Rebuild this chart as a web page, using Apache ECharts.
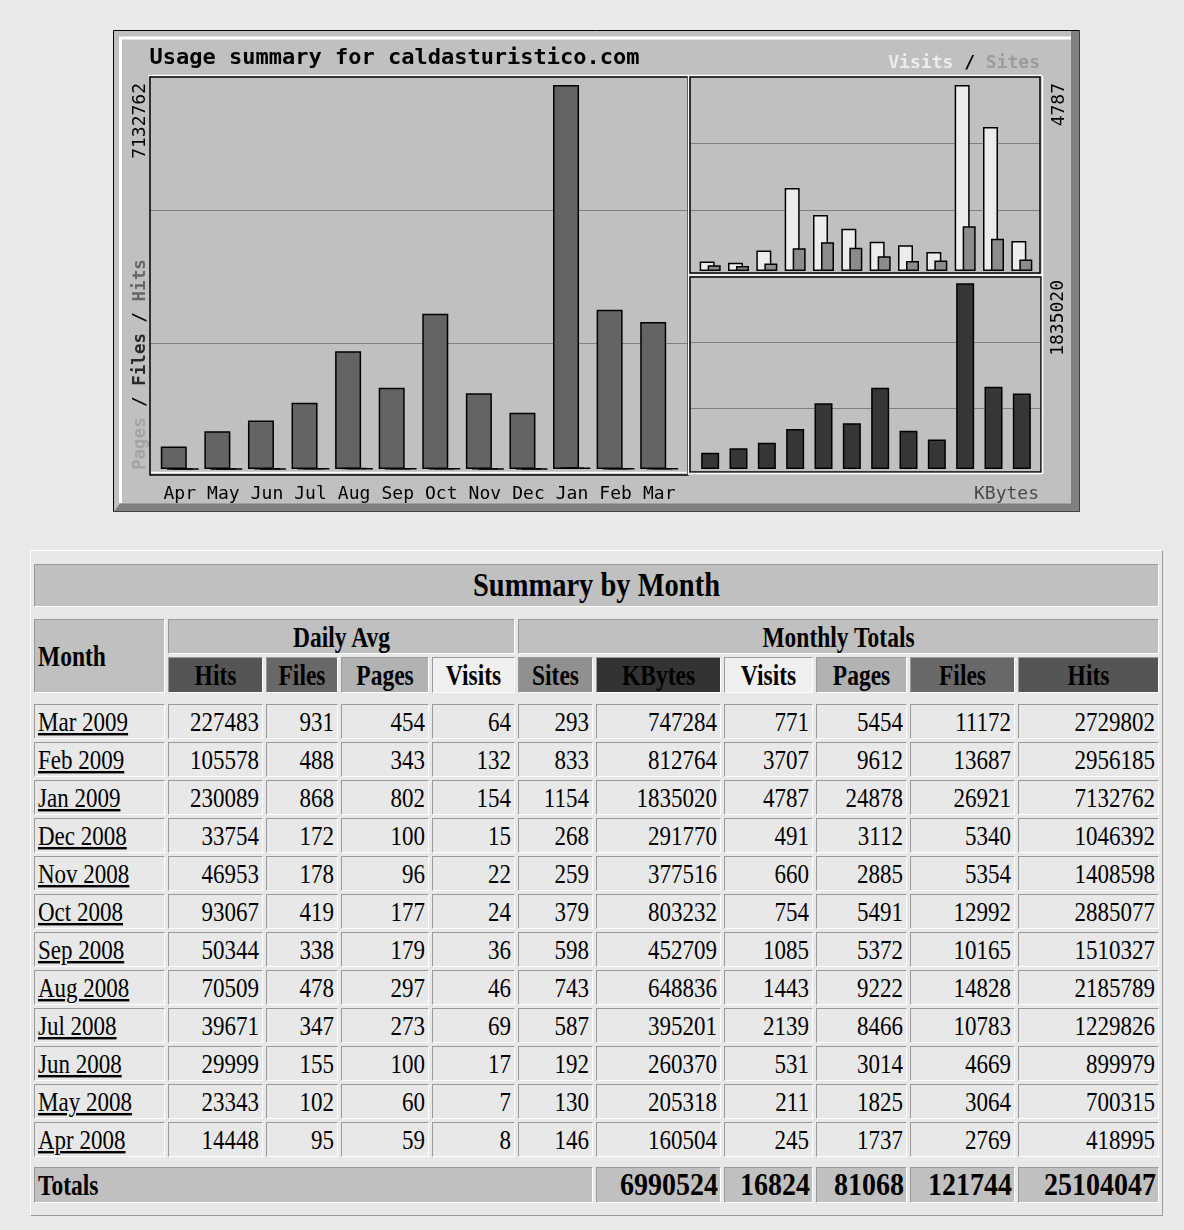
<!DOCTYPE html>
<html><head><meta charset="utf-8">
<script src="https://cdn.jsdelivr.net/npm/echarts/dist/echarts.min.js"></script>
<style>
html,body{margin:0;padding:0;}
body{background:#eaeaea;width:1184px;height:1230px;position:relative;overflow:hidden;}
#chart{position:absolute;left:0;top:0;width:1184px;height:530px;}
#tbl{position:absolute;left:30px;top:550px;width:1133px;table-layout:fixed;border-collapse:separate;border-spacing:3px;
 border:1px solid;border-color:#ffffff #9a9a9a #9a9a9a #ffffff;background:#e8e8e8;box-sizing:border-box;}
#tbl td,#tbl th{border:1px solid;border-color:#9a9a9a #ffffff #ffffff #9a9a9a;padding:0 3px;box-sizing:border-box;
 font-family:"Liberation Serif","Times New Roman",serif;font-size:23px;line-height:22px;white-space:nowrap;overflow:visible;color:#000;}
#tbl td{text-align:right;font-weight:normal;background:#e8e8e8;}
#tbl td.sp{border:none;padding:0;background:transparent;}
#tbl span{display:inline-block;transform:scaleY(1.22);transform-origin:50% 50%;}
#tbl td.m{text-align:left;}
#tbl td.m span{text-decoration:underline;}
#tbl th{font-weight:bold;text-align:center;background:#c0c0c0;font-size:23.5px;}
#tbl th.ttl{font-size:28.5px;}
#tbl th.ttl span{transform:scaleY(1.15);}
#tbl th.left{text-align:left;}
#tbl th.rt{text-align:right;font-size:28px;padding-right:2px;}
#tbl th.rt span{transform:scaleY(1.15);}
</style>
</head><body>
<div id="chart"></div>
<table id="tbl"></table>
<script>
// ---- data (chronological order, Apr 2008 .. Mar 2009) ----
const monthLabels = ['Apr','May','Jun','Jul','Aug','Sep','Oct','Nov','Dec','Jan','Feb','Mar'];
const monthNames = ['Apr 2008','May 2008','Jun 2008','Jul 2008','Aug 2008','Sep 2008','Oct 2008','Nov 2008','Dec 2008','Jan 2009','Feb 2009','Mar 2009'];
const avgHits   = [14448, 23343, 29999, 39671, 70509, 50344, 93067, 46953, 33754, 230089, 105578, 227483];
const avgFiles  = [95, 102, 155, 347, 478, 338, 419, 178, 172, 868, 488, 931];
const avgPages  = [59, 60, 100, 273, 297, 179, 177, 96, 100, 802, 343, 454];
const avgVisits = [8, 7, 17, 69, 46, 36, 24, 22, 15, 154, 132, 64];
const totSites  = [146, 130, 192, 587, 743, 598, 379, 259, 268, 1154, 833, 293];
const totKBytes = [160504, 205318, 260370, 395201, 648836, 452709, 803232, 377516, 291770, 1835020, 812764, 747284];
const totVisits = [245, 211, 531, 2139, 1443, 1085, 754, 660, 491, 4787, 3707, 771];
const totPages  = [1737, 1825, 3014, 8466, 9222, 5372, 5491, 2885, 3112, 24878, 9612, 5454];
const totFiles  = [2769, 3064, 4669, 10783, 14828, 10165, 12992, 5354, 5340, 26921, 13687, 11172];
const totHits   = [418995, 700315, 899979, 1229826, 2185789, 1510327, 2885077, 1408598, 1046392, 7132762, 2956185, 2729802];
const grandTotals = [6990524, 16824, 81068, 121744, 25104047]; // KBytes, Visits, Pages, Files, Hits
const dailyHeaders = ['Hits','Files','Pages','Visits'];
const totalHeaders = ['Sites','KBytes','Visits','Pages','Files','Hits'];
const headerColors = ['#555555','#686868','#b2b2b2','#f0f0f0','#909090','#333333','#f0f0f0','#b2b2b2','#686868','#555555'];
const colWidths = [131, 95, 72, 88, 83, 75, 125, 89, 91, 105, 141];

// ---- chart ----
const hitsMaxVal = Math.max(...totHits);
const visMaxVal = Math.max(...totVisits);
const kbMaxVal = Math.max(...totKBytes);
function axisMax(v, f){ const i = Math.ceil(v * f / 3); return i * 3; }
const hitsMax = axisMax(hitsMaxVal, 392/384);
const visMax = axisMax(visMaxVal, 194/186);
const kbMax = axisMax(kbMaxVal, 192/185.7);

const mono = '"DejaVu Sans Mono", "Liberation Mono", monospace';
function line(x1,y1,x2,y2,color,w,z){ return {type:'line', z:z||20, silent:true, shape:{x1,y1,x2,y2}, style:{stroke:color, lineWidth:w}}; }
function yAx(gi, max){
  return {gridIndex:gi, type:'value', min:0, max:max, interval:max/3,
    axisLabel:{show:false}, axisLine:{show:false}, axisTick:{show:false}, splitLine:{show:false}};
}
function gridLineAx(gi){
  return {gridIndex:gi, type:'value', min:0, max:3, interval:1,
    axisLabel:{show:false}, axisLine:{show:false}, axisTick:{show:false},
    splitLine:{show:true, showMinLine:false, showMaxLine:false, lineStyle:{color:'#808080', width:1.2}}};
}
const graphic = [
  // outer panel
  {type:'rect', z:-20, silent:true, shape:{x:113.5, y:30.5, width:966, height:481}, style:{fill:'#c0c0c0', stroke:'#000', lineWidth:1}},
  {type:'polygon', z:-19, silent:true, shape:{points:[[1071,31],[1079.5,31],[1079.5,511.5],[114,511.5],[120,503.5],[1071,503.5]]}, style:{fill:'#808080'}},
  line(119,38,1071,38,'#ffffff',3,-18),
  line(120.5,38,120.5,503,'#ffffff',3,-18),
  // plot frames
  line(148,75.5,1042,75.5,'#ffffff',1.5),
  {type:'rect', z:20, silent:true, shape:{x:150, y:77, width:538, height:398}, style:{fill:'none', stroke:'#000', lineWidth:1.5}},
  line(151,472.5,687,472.5,'#ffffff',1.5),
  line(688.5,76,688.5,475,'#ffffff',1.5),
  {type:'rect', z:20, silent:true, shape:{x:690, y:77, width:350, height:196}, style:{fill:'none', stroke:'#000', lineWidth:1.5}},
  line(690,275,1042,275,'#ffffff',1.5),
  {type:'rect', z:20, silent:true, shape:{x:690, y:277, width:351, height:195}, style:{fill:'none', stroke:'#000', lineWidth:1.5}},
  line(690,473.5,1042,473.5,'#ffffff',1.5),
  line(1042.5,76,1042.5,474,'#ffffff',1.5),
  // texts
  {type:'text', z:30, silent:true, x:149.5, y:58, style:{text:'Usage summary for caldasturistico.com', font:'bold 22px '+mono, fill:'#000', align:'left', verticalAlign:'middle'}},
  {type:'text', z:30, silent:true, x:1040, y:63, style:{text:'{v|Visits} {s|/} {w|Sites}', font:'18px '+mono, align:'right', verticalAlign:'middle',
    rich:{v:{fill:'#ececec', font:'bold 18px '+mono, textShadowColor:'#7a7a7a', textShadowOffsetX:1, textShadowOffsetY:1, textShadowBlur:0},
          s:{fill:'#000', font:'bold 18px '+mono},
          w:{fill:'#9c9c9c', font:'bold 18px '+mono, textShadowColor:'#e4e4e4', textShadowOffsetX:1, textShadowOffsetY:1, textShadowBlur:0}}}},
  {type:'text', z:30, silent:true, x:1039, y:494, style:{text:'KBytes', font:'18px '+mono, fill:'#4a4a4a', align:'right', verticalAlign:'middle', textShadowColor:'#e0e0e0', textShadowOffsetX:1, textShadowOffsetY:1, textShadowBlur:0}},
  {type:'text', z:30, silent:true, x:140, y:83, rotation:Math.PI/2, style:{text:String(hitsMaxVal), font:'18px '+mono, fill:'#000', align:'right', verticalAlign:'middle'}},
  {type:'text', z:30, silent:true, x:1059, y:83, rotation:Math.PI/2, style:{text:String(visMaxVal), font:'18px '+mono, fill:'#000', align:'right', verticalAlign:'middle'}},
  {type:'text', z:30, silent:true, x:1058, y:280, rotation:Math.PI/2, style:{text:String(kbMaxVal), font:'18px '+mono, fill:'#000', align:'right', verticalAlign:'middle'}},
  {type:'text', z:30, silent:true, x:140, y:470, rotation:Math.PI/2, style:{text:'{p|Pages} / {f|Files} / {h|Hits}', font:'17.5px '+mono, fill:'#000', align:'left', verticalAlign:'middle',
    rich:{p:{fill:'#a4a4a4', font:'bold 17.5px '+mono, textShadowColor:'#e8e8e8', textShadowOffsetX:1, textShadowOffsetY:1, textShadowBlur:0},
          f:{fill:'#2a2a2a', font:'bold 17.5px '+mono}, h:{fill:'#666666', font:'bold 17.5px '+mono}}}}
];

const barBorder = {borderColor:'#000', borderWidth:1.5};
const option = {
  animation:false,
  backgroundColor:'transparent',
  graphic: graphic,
  grid:[
    {left:158, top:77, width:523, height:392},
    {left:696, top:77, width:340, height:194},
    {left:696, top:277, width:340, height:192},
    {left:150, top:77, width:538, height:399},
    {left:690, top:77, width:350, height:200},
    {left:690, top:276, width:351, height:198}
  ],
  xAxis:[
    {gridIndex:0, type:'category', data:monthLabels, axisLine:{show:false}, axisTick:{show:false},
     axisLabel:{interval:0, fontFamily:mono, fontSize:18, color:'#000', margin:16}},
    {gridIndex:1, type:'category', data:monthLabels, show:false},
    {gridIndex:2, type:'category', data:monthLabels, show:false},
    {gridIndex:3, type:'category', data:monthLabels, show:false},
    {gridIndex:4, type:'category', data:monthLabels, show:false},
    {gridIndex:5, type:'category', data:monthLabels, show:false}
  ],
  yAxis:[ yAx(0, hitsMax), yAx(1, visMax), yAx(2, kbMax), gridLineAx(3), gridLineAx(4), gridLineAx(5) ],
  series:[
    {name:'Hits', type:'bar', xAxisIndex:0, yAxisIndex:0, data:totHits, barWidth:26, barGap:'-76.9%', itemStyle:Object.assign({color:'#646464'}, barBorder)},
    {name:'Files', type:'bar', xAxisIndex:0, yAxisIndex:0, data:totFiles, barWidth:26, barGap:'-76.9%', itemStyle:Object.assign({color:'#303030'}, barBorder)},
    {name:'Pages', type:'bar', xAxisIndex:0, yAxisIndex:0, data:totPages, barWidth:26, barGap:'-76.9%', itemStyle:Object.assign({color:'#b4b4b4'}, barBorder)},
    {name:'Visits', type:'bar', xAxisIndex:1, yAxisIndex:1, data:totVisits, barWidth:15, barGap:'-46.7%', itemStyle:Object.assign({color:'#ececec'}, barBorder)},
    {name:'Sites', type:'bar', xAxisIndex:1, yAxisIndex:1, data:totSites, barWidth:13, barGap:'-46.7%', itemStyle:Object.assign({color:'#8c8c8c'}, barBorder)},
    {name:'KBytes', type:'bar', xAxisIndex:2, yAxisIndex:2, data:totKBytes, barWidth:18, itemStyle:Object.assign({color:'#363636'}, barBorder)}
  ]
};
const chart = echarts.init(document.getElementById('chart'), null, {renderer:'canvas'});
chart.setOption(option);

// ---- table ----
function sp(h){ return '<tr style="height:'+h+'px"><td class="sp" colspan="11"></td></tr>'; }
let html = '<colgroup>' + colWidths.map(w => '<col style="width:'+w+'px">').join('') + '</colgroup>';
html += sp(7);
html += '<tr style="height:43px"><th class="ttl" colspan="11"><span>Summary by Month</span></th></tr>';
html += sp(6);
html += '<tr style="height:35px"><th class="left" rowspan="2"><span>Month</span></th>'
     + '<th colspan="4"><span>Daily Avg</span></th><th colspan="6"><span>Monthly Totals</span></th></tr>';
html += '<tr style="height:36px">' + dailyHeaders.concat(totalHeaders).map((h,i) =>
     '<th style="background:'+headerColors[i]+'"><span>'+h+'</span></th>').join('') + '</tr>';
html += sp(5);
for (let k = monthNames.length - 1; k >= 0; k--) {
  const vals = [avgHits[k], avgFiles[k], avgPages[k], avgVisits[k], totSites[k], totKBytes[k], totVisits[k], totPages[k], totFiles[k], totHits[k]];
  html += '<tr style="height:35px"><td class="m"><span>'+monthNames[k]+'</span></td>'
       + vals.map(v => '<td><span>'+v+'</span></td>').join('') + '</tr>';
}
html += sp(4);
html += '<tr style="height:36px"><th class="left" colspan="6"><span>Totals</span></th>'
     + grandTotals.map(v => '<th class="rt"><span>'+v+'</span></th>').join('') + '</tr>';
html += sp(6);
document.getElementById('tbl').innerHTML = html;
</script>
</body></html>
